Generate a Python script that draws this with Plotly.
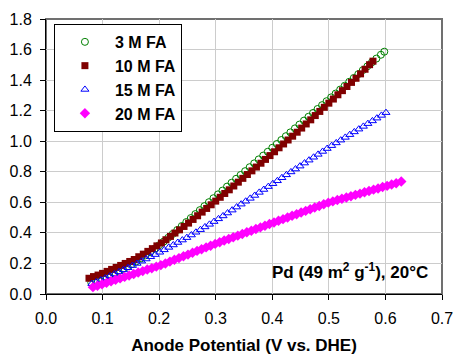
import plotly.graph_objects as go

# ---- data ----
x_3M = [0.080, 0.088, 0.096, 0.104, 0.112, 0.120, 0.128, 0.136, 0.144, 0.152, 0.160, 0.168, 0.176, 0.184, 0.192,
        0.200, 0.208, 0.216, 0.224, 0.232, 0.240, 0.248, 0.256, 0.264, 0.272, 0.280, 0.288, 0.296, 0.304, 0.312,
        0.320, 0.328, 0.336, 0.344, 0.352, 0.360, 0.368, 0.376, 0.384, 0.392, 0.400, 0.408, 0.416, 0.424, 0.432,
        0.440, 0.448, 0.456, 0.464, 0.472, 0.480, 0.488, 0.496, 0.504, 0.512, 0.520, 0.528, 0.536, 0.544, 0.552,
        0.560, 0.568, 0.576, 0.584, 0.592, 0.598]
y_3M = [0.075, 0.085, 0.096, 0.108, 0.122, 0.136, 0.150, 0.165, 0.180, 0.196, 0.214, 0.233, 0.253, 0.274, 0.296,
        0.319, 0.343, 0.368, 0.393, 0.419, 0.445, 0.471, 0.497, 0.523, 0.549, 0.575, 0.601, 0.627, 0.652, 0.677,
        0.703, 0.728, 0.754, 0.779, 0.804, 0.830, 0.855, 0.881, 0.906, 0.931, 0.957, 0.982, 1.008, 1.033, 1.058,
        1.084, 1.109, 1.135, 1.160, 1.185, 1.211, 1.236, 1.262, 1.287, 1.312, 1.338, 1.363, 1.389, 1.414, 1.439,
        1.465, 1.490, 1.516, 1.541, 1.566, 1.586]

x_10M = [0.076, 0.084, 0.092, 0.100, 0.108, 0.116, 0.124, 0.132, 0.140, 0.148, 0.156, 0.164, 0.172, 0.180, 0.188,
         0.196, 0.204, 0.212, 0.220, 0.228, 0.236, 0.244, 0.252, 0.260, 0.268, 0.276, 0.284, 0.292, 0.300, 0.308,
         0.316, 0.324, 0.332, 0.340, 0.348, 0.356, 0.364, 0.372, 0.380, 0.388, 0.396, 0.404, 0.412, 0.420, 0.428,
         0.436, 0.444, 0.452, 0.460, 0.468, 0.476, 0.484, 0.492, 0.500, 0.508, 0.516, 0.524, 0.532, 0.540, 0.548,
         0.556, 0.564, 0.572, 0.578]
y_10M = [0.103, 0.114, 0.124, 0.135, 0.148, 0.161, 0.174, 0.187, 0.200, 0.213, 0.226, 0.244, 0.261, 0.279, 0.297,
         0.315, 0.334, 0.355, 0.377, 0.399, 0.420, 0.442, 0.464, 0.488, 0.512, 0.536, 0.560, 0.584, 0.608, 0.633,
         0.658, 0.682, 0.707, 0.732, 0.757, 0.782, 0.806, 0.831, 0.856, 0.881, 0.906, 0.931, 0.957, 0.982, 1.008,
         1.033, 1.059, 1.086, 1.113, 1.140, 1.168, 1.195, 1.222, 1.249, 1.276, 1.304, 1.331, 1.358, 1.385, 1.412,
         1.441, 1.471, 1.501, 1.524]

x_15M = [0.081, 0.089, 0.097, 0.105, 0.113, 0.121, 0.129, 0.137, 0.145, 0.153, 0.161, 0.169, 0.177, 0.185, 0.193,
         0.201, 0.209, 0.217, 0.225, 0.233, 0.241, 0.249, 0.257, 0.265, 0.273, 0.281, 0.289, 0.297, 0.305, 0.313,
         0.321, 0.329, 0.337, 0.345, 0.353, 0.361, 0.369, 0.377, 0.385, 0.393, 0.401, 0.409, 0.417, 0.425, 0.433,
         0.441, 0.449, 0.457, 0.465, 0.473, 0.481, 0.489, 0.497, 0.505, 0.513, 0.521, 0.529, 0.537, 0.545, 0.553,
         0.561, 0.569, 0.577, 0.585, 0.593, 0.601]
y_15M = [0.068, 0.079, 0.091, 0.104, 0.118, 0.131, 0.145, 0.158, 0.172, 0.186, 0.200, 0.215, 0.229, 0.244, 0.258,
         0.273, 0.289, 0.305, 0.321, 0.337, 0.353, 0.369, 0.386, 0.404, 0.421, 0.439, 0.456, 0.474, 0.492, 0.511,
         0.530, 0.549, 0.569, 0.588, 0.607, 0.626, 0.645, 0.665, 0.684, 0.703, 0.722, 0.741, 0.761, 0.780, 0.799,
         0.818, 0.837, 0.857, 0.876, 0.895, 0.914, 0.933, 0.952, 0.971, 0.989, 1.007, 1.025, 1.043, 1.061, 1.079,
         1.097, 1.115, 1.133, 1.151, 1.169, 1.187]

x_20M = [0.083, 0.091, 0.099, 0.107, 0.115, 0.123, 0.131, 0.139, 0.147, 0.155, 0.163, 0.171, 0.179, 0.187, 0.195,
         0.203, 0.211, 0.219, 0.227, 0.235, 0.243, 0.251, 0.259, 0.267, 0.275, 0.283, 0.291, 0.299, 0.307, 0.315,
         0.323, 0.331, 0.339, 0.347, 0.355, 0.363, 0.371, 0.379, 0.387, 0.395, 0.403, 0.411, 0.419, 0.427, 0.435,
         0.443, 0.451, 0.459, 0.467, 0.475, 0.483, 0.491, 0.499, 0.507, 0.515, 0.523, 0.531, 0.539, 0.547, 0.555,
         0.563, 0.571, 0.579, 0.587, 0.595, 0.603, 0.611, 0.619, 0.628]
y_20M = [0.045, 0.054, 0.064, 0.073, 0.083, 0.093, 0.102, 0.112, 0.121, 0.131, 0.141, 0.150, 0.160, 0.169, 0.179,
         0.189, 0.200, 0.212, 0.224, 0.235, 0.247, 0.258, 0.270, 0.282, 0.293, 0.305, 0.316, 0.328, 0.339, 0.350,
         0.360, 0.371, 0.382, 0.393, 0.404, 0.414, 0.425, 0.436, 0.447, 0.458, 0.468, 0.479, 0.490, 0.501, 0.512,
         0.522, 0.533, 0.544, 0.555, 0.566, 0.576, 0.587, 0.598, 0.606, 0.615, 0.623, 0.632, 0.640, 0.649, 0.657,
         0.666, 0.674, 0.683, 0.691, 0.700, 0.708, 0.717, 0.725, 0.736]

series_names = ["3 M FA", "10 M FA", "15 M FA", "20 M FA"]
x_ticks = [0.0, 0.1, 0.2, 0.3, 0.4, 0.5, 0.6, 0.7]
y_ticks = [0.0, 0.2, 0.4, 0.6, 0.8, 1.0, 1.2, 1.4, 1.6, 1.8]
x_title = "Anode Potential (V vs. DHE)"
note_text = "Pd (49 m<sup>2</sup> g<sup>-1</sup>), 20°C"

FONT = "Arial, Liberation Sans, sans-serif"

fig = go.Figure()
fig.add_trace(go.Scatter(x=x_3M, y=y_3M, mode="markers", name="<b>" + series_names[0] + "</b>",
                         marker=dict(symbol="circle-open", size=7, color="#008000", line=dict(width=1, color="#008000"))))
fig.add_trace(go.Scatter(x=x_10M, y=y_10M, mode="markers", name="<b>" + series_names[1] + "</b>",
                         marker=dict(symbol="square", size=7, color="#800000", line=dict(width=0))))
fig.add_trace(go.Scatter(x=x_15M, y=y_15M, mode="markers", name="<b>" + series_names[2] + "</b>",
                         marker=dict(symbol="triangle-up-open", size=7, color="#0000FF", line=dict(width=1, color="#0000FF"))))
fig.add_trace(go.Scatter(x=x_20M, y=y_20M, mode="markers", name="<b>" + series_names[3] + "</b>",
                         marker=dict(symbol="diamond", size=8, color="#FF00FF", line=dict(width=0))))

# plot area border (grey)
fig.add_shape(type="rect", xref="paper", yref="paper", x0=0, x1=1, y0=0, y1=1,
              line=dict(color="#707070", width=2), layer="below")

fig.add_annotation(x=0.97, y=0.035, xref="paper", yref="paper", xanchor="right", yanchor="bottom",
                   text="<b>" + note_text + "</b>", showarrow=False,
                   font=dict(family=FONT, size=17, color="black"))

fig.update_layout(
    width=456, height=356,
    margin=dict(l=46, r=14, t=19, b=62),
    paper_bgcolor="white", plot_bgcolor="white",
    font=dict(family=FONT, color="black"),
    showlegend=True,
    legend=dict(x=0.02, y=0.982, xanchor="left", yanchor="top",
                bgcolor="white", bordercolor="black", borderwidth=1,
                font=dict(family=FONT, size=16, color="black"),
                itemwidth=50, tracegroupgap=0),
    xaxis=dict(range=[0, 0.7], tickvals=x_ticks, tickformat=".1f", automargin=False,
               showgrid=True, gridcolor="#cccccc", gridwidth=1, zeroline=False,
               showline=True, linecolor="black", linewidth=1,
               ticks="outside", ticklen=5, tickcolor="black",
               tickfont=dict(family=FONT, size=16, color="black"),
               ticklabelstandoff=5,
               title=dict(text="<b>" + x_title + "</b>", font=dict(family=FONT, size=17, color="black"),
                          standoff=12)),
    yaxis=dict(range=[0, 1.8], tickvals=y_ticks, tickformat=".1f", automargin=False,
               showgrid=True, gridcolor="#cccccc", gridwidth=1, zeroline=False,
               showline=True, linecolor="black", linewidth=1,
               ticks="outside", ticklen=5, tickcolor="black",
               tickfont=dict(family=FONT, size=16, color="black"),
               ticklabelstandoff=5),
)

fig.write_html("out.html", config={"displayModeBar": False},
               post_script="document.body.style.margin='0';document.body.style.padding='0';")
